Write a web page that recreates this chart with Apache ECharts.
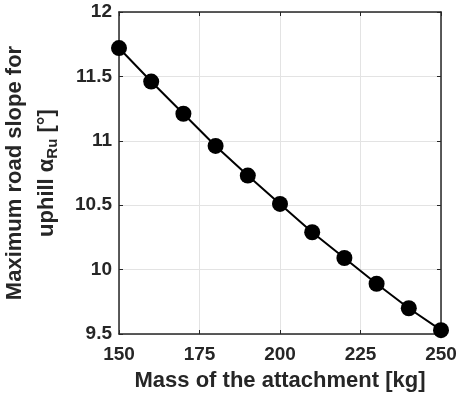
<!DOCTYPE html>
<html>
<head>
<meta charset="utf-8">
<script src="https://cdn.jsdelivr.net/npm/echarts@6/dist/echarts.min.js"></script>
<style>
  html, body { margin: 0; padding: 0; background: #fff; }
  #chart { width: 457px; height: 400px; }
</style>
</head>
<body>
<div id="chart"></div>
<script>
const masses = [150, 160, 170, 180, 190, 200, 210, 220, 230, 240, 250];
const slopes = [11.72, 11.46, 11.21, 10.96, 10.73, 10.51, 10.29, 10.09, 9.89, 9.70, 9.53];
const xTicks = [150, 175, 200, 225, 250];
const yTicks = [9.5, 10, 10.5, 11, 11.5, 12];

const FONT = 'Liberation Sans';
const DARK = '#262626';

const chart = echarts.init(document.getElementById('chart'), null, { renderer: 'canvas' });

const baseAxis = {
  axisLine: { show: true, onZero: false, lineStyle: { color: DARK, width: 1.5 } },
  axisTick: { show: true, inside: true, length: 4, lineStyle: { color: DARK, width: 1 } },
  splitLine: { show: true, lineStyle: { color: '#e3e3e3', width: 1 } },
  axisLabel: { fontFamily: FONT, fontWeight: 'bold', fontSize: 19, color: DARK },
  nameTextStyle: { fontFamily: FONT, fontWeight: 'bold', fontSize: 22, color: DARK }
};

chart.setOption({
  animation: false,
  backgroundColor: '#fff',
  grid: { left: 119, right: 16, top: 12, bottom: 66, containLabel: false, outerBoundsMode: 'none' },
  xAxis: [
    Object.assign({}, baseAxis, {
      type: 'value', min: 150, max: 250, interval: 25,
      name: 'Mass of the attachment [kg]',
      nameLocation: 'middle', nameGap: 36,
      axisLabel: Object.assign({}, baseAxis.axisLabel, {
        margin: 11,
        formatter: v => xTicks.includes(v) ? String(v) : ''
      })
    }),
    Object.assign({}, baseAxis, {
      type: 'value', position: 'top', min: 150, max: 250, interval: 25,
      axisLabel: { show: false }, splitLine: { show: false }
    })
  ],
  yAxis: [
    Object.assign({}, baseAxis, {
      type: 'value', min: 9.5, max: 12, interval: 0.5,
      name: '{t|Maximum road slope for}\n{t|uphill α}{s|Ru}{t| [°]}',
      nameLocation: 'middle', nameGap: 56,
      nameTextStyle: Object.assign({}, baseAxis.nameTextStyle, {
        lineHeight: 32,
        rich: {
          t: { fontFamily: FONT, fontWeight: 'bold', fontSize: 22, color: DARK, lineHeight: 32 },
          s: { fontFamily: FONT, fontWeight: 'bold', fontSize: 15, color: DARK, lineHeight: 32, padding: [12, 0, 0, 0] }
        }
      }),
      axisLabel: Object.assign({}, baseAxis.axisLabel, {
        margin: 7,
        formatter: v => yTicks.includes(v) ? String(v) : ''
      })
    }),
    Object.assign({}, baseAxis, {
      type: 'value', position: 'right', min: 9.5, max: 12, interval: 0.5,
      axisLabel: { show: false }, splitLine: { show: false }
    })
  ],
  series: [{
    type: 'line',
    data: masses.map((m, i) => [m, slopes[i]]),
    symbol: 'circle',
    symbolSize: 16,
    lineStyle: { color: '#000', width: 2 },
    itemStyle: { color: '#000' },
    clip: false
  }]
});
</script>
</body>
</html>
